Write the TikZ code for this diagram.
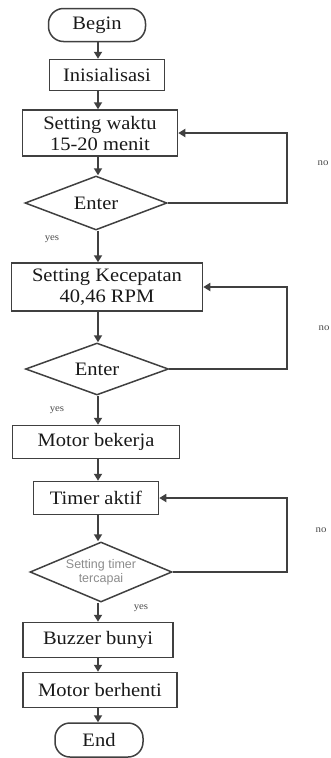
\documentclass[tikz,border=0pt]{standalone}
\usepackage{fontspec}
\setmainfont{Liberation Serif}[FakeStretch=1.08]
\newfontfamily\condsans{Liberation Sans}
\usetikzlibrary{shapes.geometric}
\usetikzlibrary{arrows.meta}

\tikzset{
  flow/.style={draw=black!75, line width=1.5pt, text=black!90,
    font=\fontsize{19}{21}\selectfont, align=center, inner sep=0pt},
  box/.style={flow, rectangle},
  term/.style={flow, rectangle, rounded corners=15pt},
  cond/.style={flow, diamond, aspect=2.6},
  arr/.style={draw=black!75, line width=1.7pt,
    -{Triangle[length=7pt, width=8pt]}},
  tag/.style={font=\fontsize{10}{11}\selectfont, text=black!70}
}

\begin{document}
\begin{tikzpicture}[x=1pt, y=-1pt]
  \useasboundingbox (0,0) rectangle (331,758);
  % spine of the main flow and the rail of the "no" loops
  \coordinate (spine) at (98,0);
  \coordinate (rail) at (287,0);
  % ---------- start, time setting ----------
  \node[term, minimum width=97pt, minimum height=33pt] (begin) at (97,25)
    {Begin};
  \node[box, minimum width=115pt, minimum height=31pt] (init) at (107,75)
    {Inisialisasi};
  \node[box, minimum width=155pt, minimum height=46pt] (waktu) at (100,133)
    {Setting waktu\\15-20 menit};
  \node[cond, minimum width=142pt, minimum height=54pt] (enter1) at (96,203)
    {Enter};
  % ---------- speed setting ----------
  \node[box, minimum width=191pt, minimum height=48pt] (kecepatan)
    at (107,287) {Setting Kecepatan\\40,46 RPM};
  \node[cond, minimum width=143pt, minimum height=52pt] (enter2) at (97,369)
    {Enter};
  \node[box, minimum width=167pt, minimum height=33pt] (motor) at (96,442)
    {Motor bekerja};
  % ---------- timer ----------
  \node[box, minimum width=125pt, minimum height=33pt] (timer) at (96,498)
    {Timer aktif};
  \node[cond, minimum width=142pt, minimum height=60pt,
    font=\condsans\fontsize{12.5}{14}\selectfont, text=black!45]
    (cek) at (101,572) {Setting timer\\tercapai};
  \node[box, minimum width=150pt, minimum height=35pt] (buzzer) at (98,640)
    {Buzzer bunyi};
  \node[box, minimum width=154pt, minimum height=35pt] (stop) at (100,690)
    {Motor berhenti};
  \node[term, minimum width=88pt, minimum height=34pt] (end) at (99,740)
    {End};
  % down the spine
  \draw[arr] (begin.south -| spine) -- (init.north -| spine);
  \draw[arr] (init.south -| spine) -- (waktu.north -| spine);
  \draw[arr] (waktu.south -| spine) -- (enter1.north -| spine);
  \draw[arr] (enter1.south -| spine) -- (kecepatan.north -| spine);
  \draw[arr] (kecepatan.south -| spine) -- (enter2.north -| spine);
  \draw[arr] (enter2.south -| spine) -- (motor.north -| spine);
  \draw[arr] (motor.south -| spine) -- (timer.north -| spine);
  \draw[arr] (timer.south -| spine) -- (cek.north -| spine);
  \draw[arr] (cek.south -| spine) -- (buzzer.north -| spine);
  \draw[arr] (buzzer.south -| spine) -- (stop.north -| spine);
  \draw[arr] (stop.south -| spine) -- (end.north -| spine);
  % the "no" loops back up
  \draw[arr] (enter1.east) -- (enter1.east -| rail) |- (waktu.east);
  \draw[arr] (enter2.east) -- (enter2.east -| rail) |- (kecepatan.east);
  \draw[arr] (cek.east) -- (cek.east -| rail) |- (timer.east);
  % yes / no labels
  \node[tag] (yes1) at (52,239) {yes};
  \node[tag] (yes2) at (57,410) {yes};
  \node[tag] (yes3) at (141,608) {yes};
  \node[tag] (no1) at (323,163) {no};
  \node[tag] (no2) at (324,328) {no};
  \node[tag] (no3) at (321,530) {no};
\end{tikzpicture}
\end{document}
